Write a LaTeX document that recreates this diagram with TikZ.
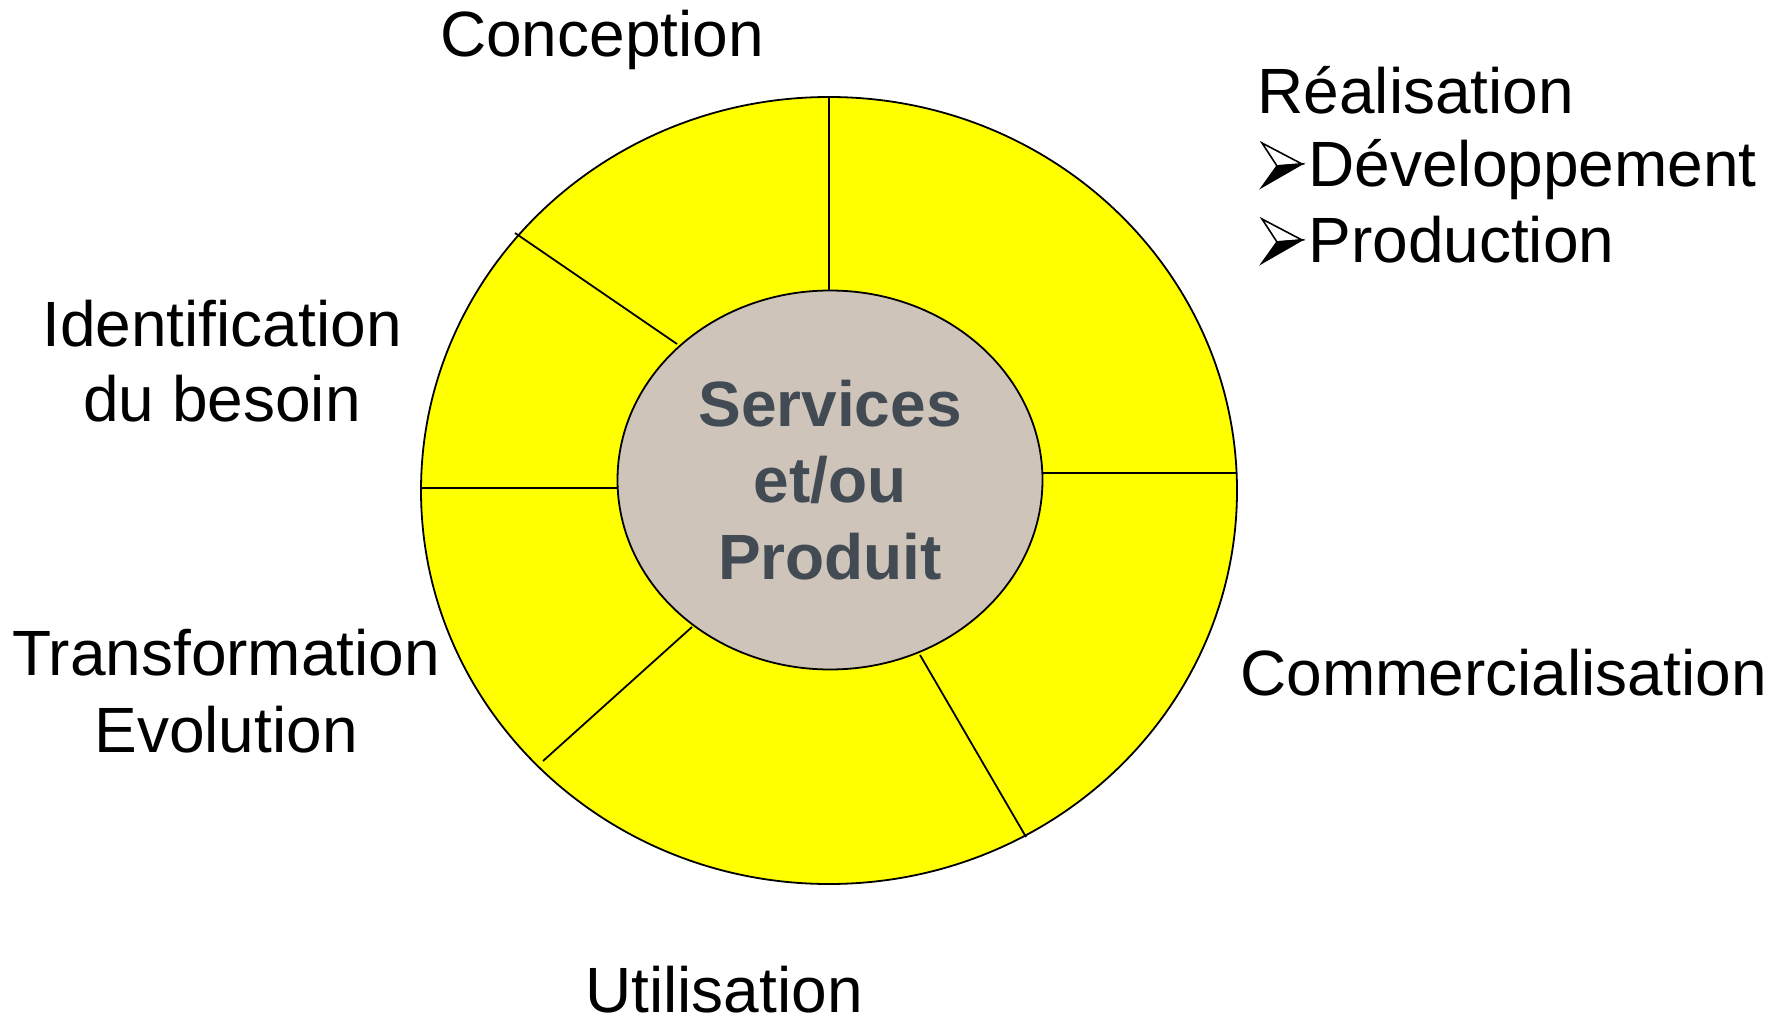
\documentclass[tikz,border=0pt]{standalone}
\usepackage{fontspec}
\setmainfont{Liberation Sans}
\usetikzlibrary{shapes.geometric}
\definecolor{ringyellow}{RGB}{255,255,0}
\definecolor{coregrey}{RGB}{206,196,185}
\definecolor{coretext}{RGB}{66,75,84}

\begin{document}
\begin{tikzpicture}[x=0.5pt,y=-0.5pt,
  phase/.style={inner sep=0pt, anchor=base, font=\fontsize{32}{38}\selectfont},
  core/.style={ellipse, draw, line width=0.9pt, fill=coregrey, minimum width=212.5pt,
    minimum height=189.5pt, inner sep=0pt, align=center, text=coretext,
    font=\fontsize{32}{38.25}\selectfont\bfseries}]
\useasboundingbox (0,0) rectangle (1787,1026);
% anneau jaune et ses separations
\filldraw[fill=ringyellow, line width=0.9pt] (829,490.5) ellipse [x radius=408, y radius=393.5];
\foreach \xa/\ya/\xb/\yb in {829/97/829/292, 515/233/677/344, 422/488/620/488,
  543/761/692/627, 1026/837/920/655, 1237/473/1040/473} {
 \draw[line width=0.9pt] (\xa,\ya) -- (\xb,\yb);
}
\node[core] (core) at (830,480) {Services\\et/ou\\Produit};
% etapes
\node[phase] (conception) at (602,57) {Conception};
\node[phase, anchor=base west] (realisation) at (1257,114) {Réalisation};
\node[phase, anchor=base west] (developpement) at (1308,187) {Développement};
\node[phase, anchor=base west] (production) at (1308,263) {Production};
\foreach \y in {143,219} {
 \filldraw[fill=white, line width=0.8pt, line join=miter] (1262,\y) -- ++(40,21) -- ++(-25,2) -- cycle;
 \filldraw[line width=0.8pt, line join=miter] (1277,\y+23) -- ++(25,-2) -- ++(-40,23) -- cycle;
}
\node[phase] (identification) at (222,347) {Identification};
\node[phase] (besoin) at (222,422) {du besoin};
\node[phase] (transformation) at (226,675) {Transformation};
\node[phase] (evolution) at (226,752) {Evolution};
\node[phase, anchor=base west] (commercialisation) at (1240,695) {Commercialisation};
\node[phase] (utilisation) at (724,1012) {Utilisation};
\end{tikzpicture}
\end{document}
